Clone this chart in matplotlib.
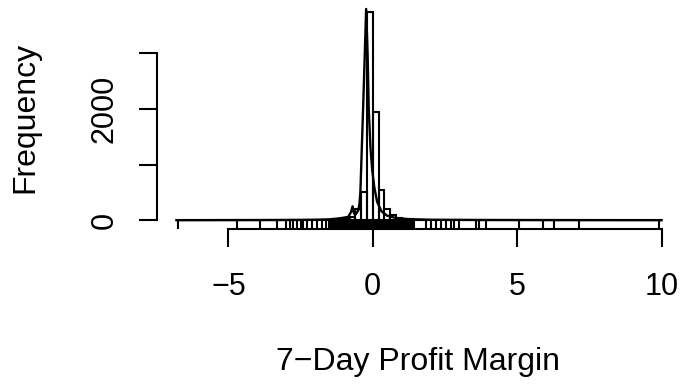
import numpy as np
import matplotlib
matplotlib.use("Agg")
import matplotlib.pyplot as plt
import matplotlib.transforms as mtransforms

plt.rcParams['font.family'] = ['Liberation Sans', 'DejaVu Sans']

# ==========================================
#              DATA
# ==========================================
BIN_WIDTH = 0.2
BIN_START = -6.8
BIN_STOP = 10.0

# left edge of every non-empty bin and its count
bin_left = [-6.8, -4.8, -4.0, -3.4, -3.2, -3.0, -2.8, -2.6, -2.4, -2.2, -2.0,
            -1.8, -1.6, -1.4, -1.2, -1.0, -0.8, -0.6, -0.4, -0.2, 0.0, 0.2,
            0.4, 0.6, 0.8, 1.0, 1.2, 1.4, 1.6, 1.8, 2.0, 2.2, 2.4, 2.6, 2.8,
            3.4, 3.6, 3.8, 5.0, 5.8, 6.2, 7.0, 9.8]
bin_count = [1, 1, 1, 1, 1, 2, 2, 2, 2, 2, 3,
             4, 8, 14, 22, 35, 60, 200, 500, 3740, 1950, 540,
             200, 100, 45, 25, 14, 4, 1, 2, 2, 2, 1, 2, 2,
             1, 1, 1, 1, 1, 1, 1, 1]

# density curve, scaled to frequency
density_x = [-6.8, -4.0, -3.0, -2.0, -1.5, -1.2, -1.0, -0.85, -0.75, -0.7,
             -0.65, -0.6, -0.5, -0.46, -0.43, -0.38, -0.33, -0.28, -0.23,
             -0.18, -0.14, -0.08, -0.02, 0.05, 0.15, 0.3, 0.5, 0.8, 1.2,
             2.0, 4.0, 7.0, 10.0]
density_y = [0, 2, 4, 8, 15, 30, 45, 60, 150, 250,
             120, 100, 180, 300, 500, 1300, 2100, 2950, 3800,
             3000, 2000, 1300, 900, 600, 330, 160, 80, 40, 20,
             8, 3, 1, 0]

# rug: individual observations visible under the baseline
rug_sparse = [-6.74, -4.69, -3.92, -3.33, -3.02, -2.88, -2.78, -2.64, -2.50,
              -2.40, -2.29, -2.12, -1.94, -1.77, -1.63, 1.42, 1.84, 2.01,
              2.19, 2.36, 2.53, 2.71, 2.81, 2.99, 3.58, 3.68, 3.92, 5.07,
              5.90, 6.28, 7.15, 9.90]
rug_dense = [-1.52, -1.48, -1.45, -1.41, -1.37, -1.34, -1.30, -1.26, -1.22,
             -1.19, -1.15, -1.11, -1.08, -1.04, -1.00, -0.97, -0.93, -0.89,
             -0.85, -0.82, -0.78, -0.74, -0.71, -0.67, -0.63, -0.59, -0.56,
             -0.52, -0.48, -0.45, -0.41, -0.37, -0.33, -0.30, -0.26, -0.22,
             -0.19, -0.15, -0.11, -0.07, -0.04, 0.00, 0.04, 0.07, 0.11, 0.15,
             0.18, 0.22, 0.26, 0.30, 0.33, 0.37, 0.41, 0.44, 0.48, 0.52, 0.56,
             0.59, 0.63, 0.67, 0.70, 0.74, 0.78, 0.82, 0.85, 0.89, 0.93, 0.96,
             1.00, 1.04, 1.08, 1.11, 1.15, 1.19, 1.22, 1.26, 1.30, 1.34, 1.38]

x_ticks = [-5, 0, 5, 10]
x_tick_labels = ["\u22125", "0", "5", "10"]
y_ticks = [0, 1000, 2000, 3000]
y_tick_labels = ["0", "", "2000", ""]

# ==========================================
#              PLOT
# ==========================================
W, H = 686, 387
fig = plt.figure(figsize=(W / 100, H / 100), dpi=100)
ax = fig.add_axes([157 / W, 1 - 228.5 / H, (681 - 157) / W, (228.5 - 4) / H])

# full set of bins, empty ones drawn as flat lines at zero
edges = np.round(np.arange(BIN_START, BIN_STOP - BIN_WIDTH / 2, BIN_WIDTH), 2)
lookup = dict(zip(bin_left, bin_count))
heights = [lookup.get(e, 0) for e in edges]
ax.bar(edges, heights, width=BIN_WIDTH, align='edge', fill=False,
       edgecolor='black', linewidth=1.5)

ax.plot(density_x, density_y, color='black', linewidth=1.7)

# rug along the bottom of the plot region
trans = mtransforms.blended_transform_factory(ax.transData, ax.transAxes)
ax.vlines(rug_sparse + rug_dense, 0, 0.037, transform=trans, color='black',
          linewidth=1.5)

# R-style limits: data range plus 4%
span_x = BIN_STOP - BIN_START
ax.set_xlim(BIN_START - 0.04 * span_x, BIN_STOP + 0.04 * span_x)
ymax = max(bin_count)
ax.set_ylim(-0.04 * ymax, ymax * 1.04)

for s in ['top', 'right']:
    ax.spines[s].set_visible(False)
ax.spines['bottom'].set_bounds(x_ticks[0], x_ticks[-1])
ax.spines['left'].set_bounds(y_ticks[0], y_ticks[-1])
ax.spines['bottom'].set_linewidth(1.5)
ax.spines['left'].set_linewidth(1.5)

ax.set_xticks(x_ticks)
ax.set_xticklabels(x_tick_labels)
ax.set_yticks(y_ticks)
ax.set_yticklabels(y_tick_labels, rotation=90, va='center')
ax.tick_params(axis='both', direction='out', length=13, width=1.5,
               labelsize=22)
ax.tick_params(axis='x', pad=18)
ax.tick_params(axis='y', pad=14)

fig.text(418 / W, 1 - 362 / H, "7\u2212Day Profit Margin", fontsize=23,
         ha='center', va='center')
fig.text(25 / W, 1 - 117 / H, "Frequency", fontsize=23, rotation=90,
         ha='center', va='center')

fig.savefig("out.png", dpi=100)
